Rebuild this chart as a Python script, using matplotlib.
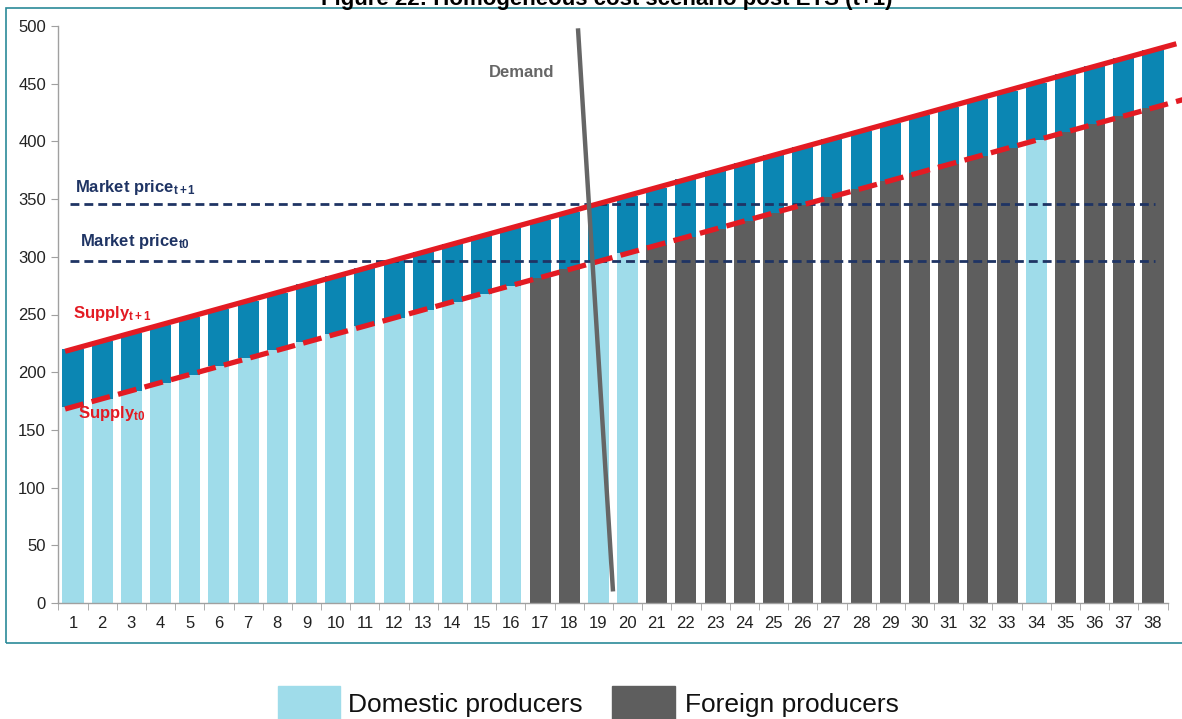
import numpy as np
import matplotlib
matplotlib.use("Agg")
import matplotlib.pyplot as plt
from matplotlib.patches import Rectangle
from matplotlib.ticker import FixedLocator

plt.rcParams["font.family"] = ["Liberation Sans", "DejaVu Sans"]
plt.rcParams["mathtext.fontset"] = "custom"
plt.rcParams["mathtext.rm"] = "Liberation Sans:bold"
plt.rcParams["mathtext.it"] = "Liberation Sans:bold"
plt.rcParams["mathtext.bf"] = "Liberation Sans:bold"

# ---- data -------------------------------------------------------------
producers = list(range(1, 39))
# cost before the ETS (t0)
cost_t0 = [170, 177, 184, 191, 198, 205, 212, 219, 226, 233,
           240, 247, 254, 261, 268, 275, 282, 289, 296, 303,
           310, 317, 324, 331, 338, 345, 352, 359, 366, 373,
           380, 387, 394, 401, 408, 415, 422, 429]
# added carbon cost after the ETS (t+1)
carbon_cost = [50] * 38
# D = domestic, F = foreign
origin = ["D"] * 16 + ["F", "F", "D", "D"] + ["F"] * 13 + ["D"] + ["F"] * 4

market_price_t0 = 296
market_price_t1 = 346
demand_x = [18.3, 19.5]
demand_y = [498, 10]
supply_span = [0.73, 38.8]

legend_labels = ["Domestic producers", "Foreign producers"]
title = "Figure 22: Homogeneous cost scenario post ETS (t+1)"

# ---- colours ----------------------------------------------------------
c_dom = "#9fdcea"
c_for = "#5e5e5e"
c_carbon = "#0b86b3"
c_red = "#e31b23"
c_navy = "#1f3464"
c_demand = "#666666"

W, H = 1182, 719
fig = plt.figure(figsize=(W / 100, H / 100), dpi=100)

def px(x, y):
    return x / W, 1 - y / H

ax_left, ax_top = px(58.4, 26)
ax_right, ax_bottom = px(1167.6, 603)
ax = fig.add_axes([ax_left, ax_bottom, ax_right - ax_left, ax_top - ax_bottom])

x = np.array(producers)
base = np.array(cost_t0)
top = base + np.array(carbon_cost)
base_colors = [c_dom if o == "D" else c_for for o in origin]

ax.bar(x, base, width=0.72, color=base_colors, zorder=2)
ax.bar(x, carbon_cost, bottom=base, width=0.72, color=c_carbon, zorder=2)

# supply curves fitted through the bar levels
xs = np.array(supply_span)
k1, b1 = np.polyfit(x, top, 1)
k0, b0 = np.polyfit(x, base, 1)
ax.plot(xs, k1 * xs + b1, color=c_red, lw=3.8, solid_capstyle="butt",
        zorder=4, clip_on=False)
xs0 = np.array([supply_span[0], 39.1])
ax.plot(xs0, k0 * xs0 + b0, color=c_red, lw=3.8, ls=(0, (3.6, 1.6)),
        zorder=4, clip_on=False)

# market prices
for p in (market_price_t1, market_price_t0):
    ax.plot([0.9, 38.07], [p, p], color=c_navy, lw=2.0, ls=(0, (3.2, 1.8)),
            zorder=3)

# demand
ax.plot(demand_x, demand_y, color=c_demand, lw=3.2, zorder=5,
        solid_capstyle="butt")

# annotations
ax.text(1.07, 360, r"Market price$_{\mathrm{t+1}}$", color=c_navy,
        fontsize=12, fontweight="bold", va="center", ha="left", zorder=6)
ax.text(1.24, 313, r"Market price$_{\mathrm{t0}}$", color=c_navy,
        fontsize=12, fontweight="bold", va="center", ha="left", zorder=6)
ax.text(1.0, 251, r"Supply$_{\mathrm{t+1}}$", color=c_red,
        fontsize=12, fontweight="bold", va="center", ha="left", zorder=6)
ax.text(1.17, 164, r"Supply$_{\mathrm{t0}}$", color=c_red,
        fontsize=12, fontweight="bold", va="center", ha="left", zorder=6)
ax.text(16.38, 460, "Demand", color=c_demand, fontsize=12,
        fontweight="bold", va="center", ha="center", zorder=6)

# axes styling
ax.set_xlim(0.5, 38.5)
ax.set_ylim(0, 500)
ax.set_yticks(range(0, 501, 50))
ax.set_xticks(x)
ax.set_xticklabels([str(i) for i in producers])
ax.xaxis.set_minor_locator(FixedLocator(np.arange(0.5, 39, 1)))
ax.tick_params(axis="x", which="major", length=0, pad=9, labelsize=12,
               labelcolor="#222222")
ax.tick_params(axis="x", which="minor", length=5, color="#a0a0a0",
               direction="out")
ax.tick_params(axis="y", length=5, color="#a0a0a0", pad=4, labelsize=12,
               labelcolor="#222222")
for s in ("top", "right"):
    ax.spines[s].set_visible(False)
for s in ("left", "bottom"):
    ax.spines[s].set_color("#a0a0a0")
    ax.spines[s].set_linewidth(1.0)

# outer frame
fx0, fy1 = px(6, 8)
fx1, fy0 = px(1200, 643)
fig.add_artist(Rectangle((fx0, fy0), fx1 - fx0, fy1 - fy0,
                         transform=fig.transFigure, fill=False,
                         edgecolor="#2b8a98", lw=1.2, clip_on=False))

# title (partly above the canvas)
tx, ty = px(607, 5)
fig.text(tx, ty, title, fontsize=16, fontweight="bold", ha="center",
         va="baseline", color="black")

# legend
for (x0, x1, tx0), lab, col in zip([(278, 340, 348), (612, 675, 685)],
                                    legend_labels, [c_dom, c_for]):
    rx0, ry1 = px(x0, 686)
    rx1, ry0 = px(x1, 725)
    fig.add_artist(Rectangle((rx0, ry0), rx1 - rx0, ry1 - ry0,
                             transform=fig.transFigure, color=col,
                             clip_on=False))
    lx, ly = px(tx0, 705)
    fig.text(lx, ly, lab, fontsize=19, ha="left", va="center",
             color="#111111")

fig.savefig("out.png", dpi=100)
